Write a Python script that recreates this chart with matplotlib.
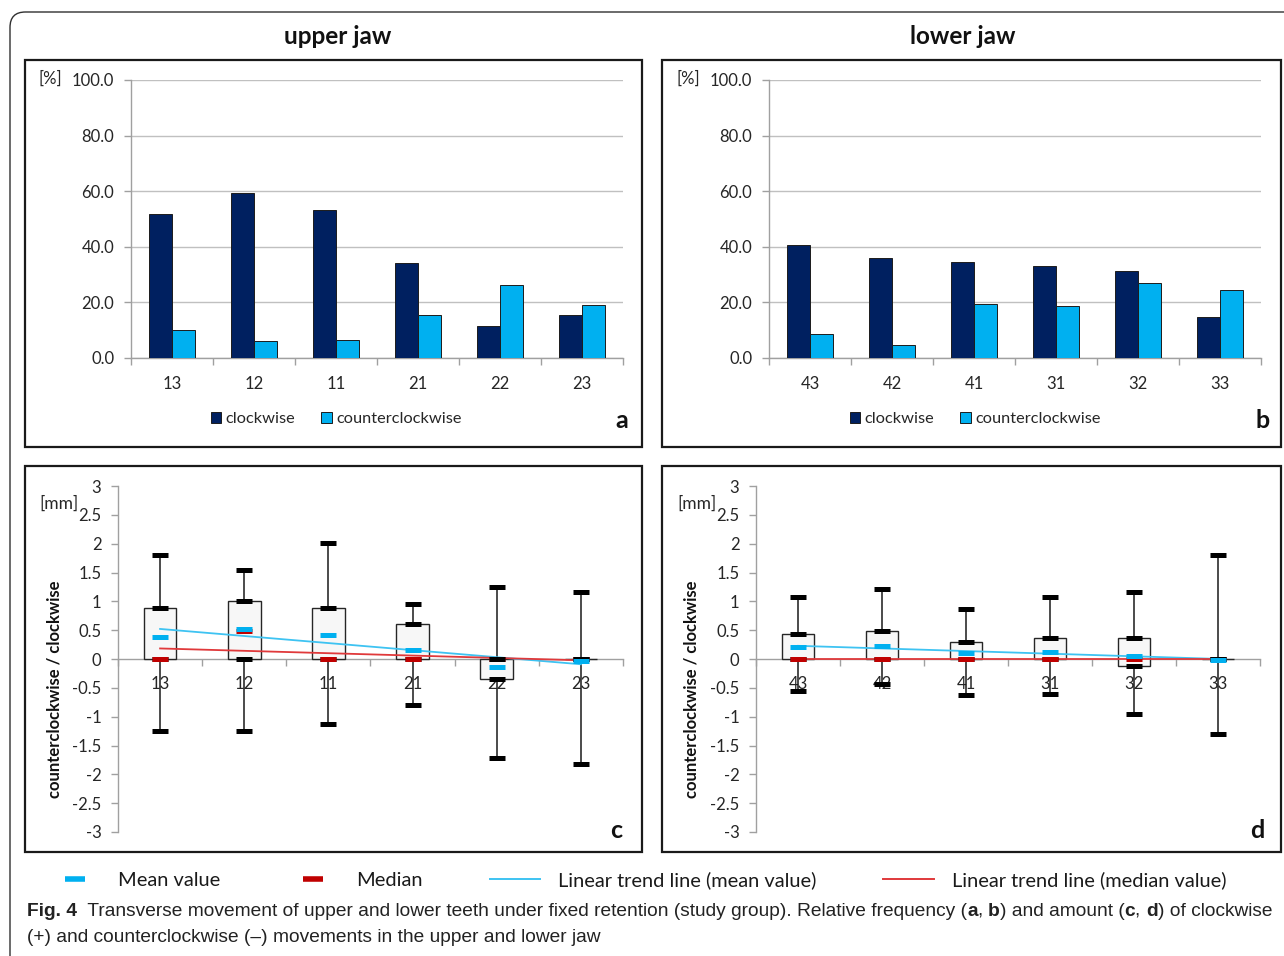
import numpy as np
import matplotlib
matplotlib.use('Agg')
import matplotlib.pyplot as plt
from matplotlib.patches import Rectangle, FancyBboxPatch
from matplotlib.lines import Line2D

# ---------------- data ----------------
upper_teeth = ['13', '12', '11', '21', '22', '23']
lower_teeth = ['43', '42', '41', '31', '32', '33']

upper_cw = [51.7, 59.5, 53.4, 34.1, 11.6, 15.3]
upper_ccw = [10.1, 6.1, 6.4, 15.6, 26.4, 19.0]
lower_cw = [40.5, 35.9, 34.5, 33.0, 31.4, 14.9]
lower_ccw = [8.7, 4.5, 19.6, 18.8, 26.8, 24.6]

upper_max = [1.81, 1.54, 2.02, 0.95, 1.24, 1.16]
upper_q3 = [0.88, 1.00, 0.89, 0.60, 0.0, 0.0]
upper_q1 = [0.0, 0.0, 0.0, 0.0, -0.35, 0.0]
upper_min = [-1.24, -1.25, -1.12, -0.80, -1.72, -1.82]
upper_median = [0.0, 0.48, 0.0, 0.0, 0.0, 0.0]
upper_mean = [0.38, 0.52, 0.41, 0.15, -0.14, -0.03]

lower_max = [1.08, 1.22, 0.86, 1.08, 1.16, 1.80]
lower_q3 = [0.43, 0.49, 0.30, 0.37, 0.37, 0.0]
lower_q1 = [0.0, 0.0, 0.0, 0.0, -0.13, 0.0]
lower_min = [-0.56, -0.44, -0.63, -0.61, -0.96, -1.30]
lower_median = [0.0, 0.0, 0.0, 0.0, 0.0, 0.0]
lower_mean = [0.20, 0.22, 0.11, 0.13, 0.05, -0.02]

pct_ticks = [0, 20, 40, 60, 80, 100]
mm_ticks = [-3, -2.5, -2, -1.5, -1, -0.5, 0, 0.5, 1, 1.5, 2, 2.5, 3]

# ---------------- style ----------------
W, H = 1284, 956
NAVY = '#002060'
LIGHT = '#00B0F0'
RED = '#C00000'
TREND_BLUE = '#3EC3F2'
TREND_RED = '#E0393B'
AXIS_GRAY = '#A0A0A0'
GRID_GRAY = '#C0C0C0'
TXT = '#262626'
FONT = ['Lato', 'DejaVu Sans']
CAP_FONT = ['Liberation Sans', 'DejaVu Sans']

plt.rcParams['font.family'] = FONT

fig = plt.figure(figsize=(W / 100, H / 100), dpi=100)
fig.patch.set_facecolor('white')


def frac_rect(x0, y0, x1, y1):
    return [x0 / W, 1 - y1 / H, (x1 - x0) / W, (y1 - y0) / H]


def fx(x):
    return x / W


def fy(y):
    return 1 - y / H


# outer rounded frame
outer = FancyBboxPatch((fx(10), fy(1010)), fx(1300) - fx(10), fy(12) - fy(1010),
                       boxstyle='round,pad=0,rounding_size=0.012',
                       transform=fig.transFigure, fill=False,
                       edgecolor='#303030', lw=1.0, mutation_aspect=W / H)
fig.add_artist(outer)

# panel frames
for (x0, y0, x1, y1) in [(25, 60, 642, 447), (662, 60, 1281, 447),
                         (25, 466, 642, 852), (662, 466, 1281, 852)]:
    fig.add_artist(Rectangle((fx(x0), fy(y1)), fx(x1) - fx(x0), fy(y0) - fy(y1),
                             transform=fig.transFigure, fill=False,
                             edgecolor='#1a1a1a', lw=1.6))

fig.text(fx(338), fy(37), 'upper jaw', ha='center', va='center',
         fontsize=17.5, fontweight='bold', color='#111111')
fig.text(fx(963), fy(37), 'lower jaw', ha='center', va='center',
         fontsize=17.5, fontweight='bold', color='#111111')


def bar_panel(rect, teeth, cw, ccw, letter, letter_xy, legend_xy, pct_xy):
    ax = fig.add_axes(frac_rect(*rect))
    x = np.arange(len(teeth))
    w = 0.28
    ax.bar(x - w / 2, cw, width=w, color=NAVY, edgecolor='#1c1c1c', lw=0.7,
           label='clockwise', zorder=3)
    ax.bar(x + w / 2, ccw, width=w, color=LIGHT, edgecolor='#1c1c1c', lw=0.7,
           label='counterclockwise', zorder=3)
    ax.set_xlim(-0.5, len(teeth) - 0.5)
    ax.set_ylim(0, 100)
    ax.set_yticks(pct_ticks)
    ax.set_yticklabels([f'{v:.1f}' for v in pct_ticks])
    ax.yaxis.grid(True, color=GRID_GRAY, lw=1.0, zorder=0)
    ax.set_axisbelow(True)
    ax.set_xticks(x)
    ax.set_xticklabels(teeth)
    ax.set_xticks(np.arange(-0.5, len(teeth)), minor=True)
    ax.tick_params(axis='x', which='major', length=0, pad=13, labelsize=12,
                   labelcolor=TXT)
    ax.tick_params(axis='x', which='minor', length=5, color=AXIS_GRAY, width=1)
    ax.tick_params(axis='y', length=5, color=AXIS_GRAY, width=1, pad=7,
                   labelsize=12, labelcolor=TXT)
    for s in ['top', 'right']:
        ax.spines[s].set_visible(False)
    for s in ['left', 'bottom']:
        ax.spines[s].set_color(AXIS_GRAY)
        ax.spines[s].set_linewidth(1.0)
    ax.patch.set_alpha(0)
    leg = ax.legend(loc='center', bbox_to_anchor=(fx(legend_xy[0]), fy(legend_xy[1])),
                    bbox_transform=fig.transFigure, ncol=2, frameon=False,
                    handlelength=0.65, handleheight=0.65, handletextpad=0.25,
                    columnspacing=1.6, fontsize=11.8)
    for t in leg.get_texts():
        t.set_color(TXT)
    fig.text(fx(pct_xy[0]), fy(pct_xy[1]), '[%]', ha='center', va='center',
             fontsize=12, color=TXT)
    fig.text(fx(letter_xy[0]), fy(letter_xy[1]), letter, ha='center', va='center',
             fontsize=18, fontweight='bold', color='#111111')
    return ax


bar_panel((131, 80, 623, 358), upper_teeth, upper_cw, upper_ccw, 'a',
          (622, 421), (336, 419), (50, 79))
bar_panel((769, 80, 1261, 358), lower_teeth, lower_cw, lower_ccw, 'b',
          (1263, 421), (975, 419), (688, 79))


def box_panel(rect, teeth, vmax, q3, q1, vmin, med, mean, letter, letter_xy,
              mm_xy, ylabel_xy):
    ax = fig.add_axes(frac_rect(*rect))
    x = np.arange(len(teeth))
    q1 = np.array(q1)
    q3 = np.array(q3)
    # whiskers
    ax.vlines(x, vmin, vmax, color='#1a1a1a', lw=1.1, zorder=2)
    # boxes
    ax.bar(x, q3 - q1, bottom=q1, width=0.39, color='#F7F7F7',
           edgecolor='#262626', lw=1.0, zorder=3)
    # trend lines
    cm = np.polyfit(x, mean, 1)
    cd = np.polyfit(x, med, 1)
    ax.plot(x, np.polyval(cm, x), color=TREND_BLUE, lw=1.3, zorder=4)
    ax.plot(x, np.polyval(cd, x), color=TREND_RED, lw=1.3, zorder=4)
    mk = dict(marker='_', ms=11, mew=3.6, ls='none')
    ax.plot(x, q1, color='black', zorder=5, **mk)
    ax.plot(x, vmin, color='black', zorder=5, **mk)
    ax.plot(x, med, color=RED, zorder=6, **mk)
    ax.plot(x, q3, color='black', zorder=7, **mk)
    ax.plot(x, vmax, color='black', zorder=7, **mk)
    ax.plot(x, mean, color=LIGHT, zorder=8, **mk)

    ax.set_xlim(-0.5, len(teeth) - 0.5)
    ax.set_ylim(-3, 3)
    ax.set_yticks(mm_ticks)
    ax.set_yticklabels([f'{v:g}' for v in mm_ticks])
    ax.set_xticks(x)
    ax.set_xticklabels(teeth)
    ax.set_xticks(np.arange(-0.5, len(teeth)), minor=True)
    ax.spines['bottom'].set_position(('data', 0))
    ax.tick_params(axis='x', which='major', length=0, pad=12, labelsize=12,
                   labelcolor=TXT)
    ax.tick_params(axis='x', which='minor', length=5, color=AXIS_GRAY, width=1)
    ax.tick_params(axis='y', length=5, color=AXIS_GRAY, width=1, pad=7,
                   labelsize=12, labelcolor=TXT)
    for s in ['top', 'right']:
        ax.spines[s].set_visible(False)
    for s in ['left', 'bottom']:
        ax.spines[s].set_color(AXIS_GRAY)
        ax.spines[s].set_linewidth(1.0)
    ax.spines['bottom'].set_zorder(1)
    ax.patch.set_alpha(0)
    fig.text(fx(mm_xy[0]), fy(mm_xy[1]), '[mm]', ha='center', va='center',
             fontsize=12.5, color=TXT)
    fig.text(fx(ylabel_xy[0]), fy(ylabel_xy[1]), 'counterclockwise / clockwise',
             rotation=90, ha='center', va='center', fontsize=12,
             fontweight='bold', color='#111111')
    fig.text(fx(letter_xy[0]), fy(letter_xy[1]), letter, ha='center', va='center',
             fontsize=18, fontweight='bold', color='#111111')
    return ax


box_panel((118, 486, 623, 832), upper_teeth, upper_max, upper_q3, upper_q1,
          upper_min, upper_median, upper_mean, 'c', (616, 830), (59, 504),
          (55, 689))
box_panel((756, 486, 1260, 832), lower_teeth, lower_max, lower_q3, lower_q1,
          lower_min, lower_median, lower_mean, 'd', (1257, 830), (697, 504),
          (692, 689))

# ---------------- bottom legend ----------------
handles = [
    Line2D([], [], color=LIGHT, marker='_', ms=14, mew=4, ls='none'),
    Line2D([], [], color=RED, marker='_', ms=14, mew=4, ls='none'),
    Line2D([], [], color=TREND_BLUE, lw=1.4),
    Line2D([], [], color=TREND_RED, lw=1.4),
]
labels = ['Mean value', 'Median', 'Linear trend line (mean value)',
          'Linear trend line (median value)']
lg = fig.legend(handles, labels, loc='center left',
                bbox_to_anchor=(fx(50), fy(880)), ncol=4, frameon=False,
                fontsize=14.4, handlelength=2.52, handletextpad=0.9,
                columnspacing=3.35, borderaxespad=0, borderpad=0)
for t in lg.get_texts():
    t.set_color('#1a1a1a')

# ---------------- caption ----------------
cax = fig.add_axes([0, 0, 1, 1])
cax.axis('off')
cax.set_xlim(0, 1)
cax.set_ylim(0, 1)

line1 = [('Fig. 4', True), ('  Transverse movement of upper and lower teeth under fixed '
                            'retention (study group). Relative frequency (', False),
         ('a', True), (', ', False), ('b', True), (') and amount (', False),
         ('c', True), (', ', False), ('d', True), (') of clockwise', False)]
cap_kw = dict(fontsize=13.8, family=CAP_FONT, color='#222222')
prev = None
for txt, bold in line1:
    fw = 'bold' if bold else 'normal'
    if prev is None:
        prev = cax.text(fx(27), fy(920), txt, ha='left', va='bottom',
                        fontweight=fw, transform=fig.transFigure, **cap_kw)
    else:
        prev = cax.annotate(txt, xy=(1, 0), xycoords=prev, ha='left',
                            va='bottom', fontweight=fw, **cap_kw)
cax.text(fx(27), fy(946), '(+) and counterclockwise (\u2013) movements in the upper and lower jaw',
         ha='left', va='bottom', transform=fig.transFigure, **cap_kw)

fig.savefig('out.png', dpi=100, facecolor='white')
